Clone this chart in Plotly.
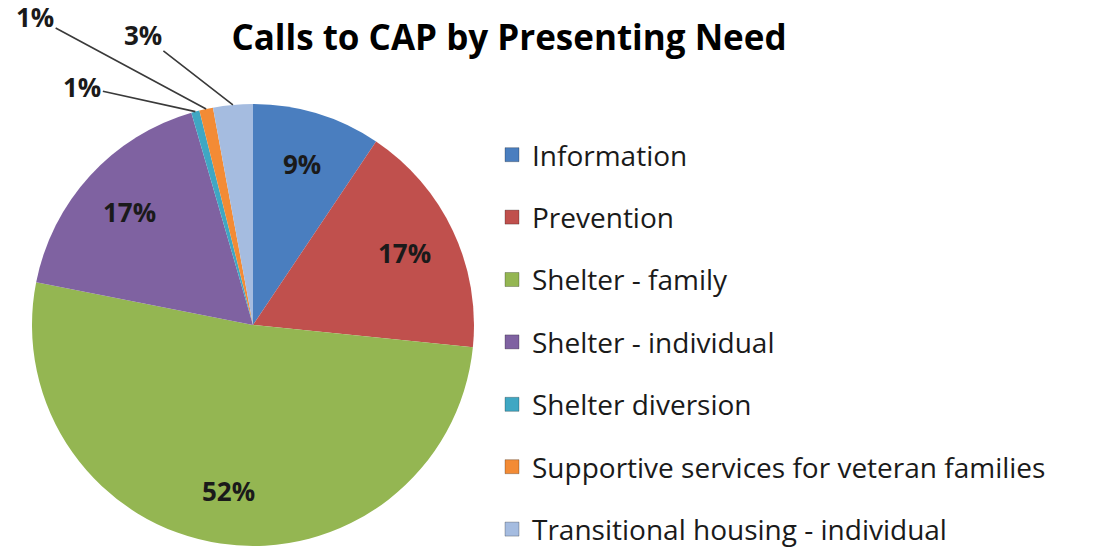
import math
import plotly.graph_objects as go

# ---- data ----
categories = [
    "Information",
    "Prevention",
    "Shelter - family",
    "Shelter - individual",
    "Shelter diversion",
    "Supportive services for veteran families",
    "Transitional housing - individual",
]
values = [9.4, 17.2, 51.5, 17.4, 0.6, 1.0, 2.9]
colors = ["#4A7EBF", "#C0504D", "#94B652", "#7F62A1", "#3FA7C3", "#F38B35", "#A5BCE0"]

W, H = 1106, 548
# pie placement (pixels)
CX, CY, R = 253, 325, 221
dom_x = [(CX - R) / W, (CX + R) / W]
dom_y = [1 - (CY + R) / H, 1 - (CY - R) / H]

total = sum(values)
inside = [v / total >= 0.05 for v in values]

font_family = "Open Sans"
label_font = dict(family=font_family, size=26, color="#1a1a1a", weight="bold")

fig = go.Figure()
fig.add_trace(go.Pie(
    labels=categories,
    values=values,
    sort=False,
    direction="clockwise",
    rotation=0,
    marker=dict(colors=colors, line=dict(width=0)),
    textinfo="none",
    domain=dict(x=dom_x, y=dom_y),
    showlegend=False,
    hoverinfo="label+percent",
))

# legend entries (one group each so the spacing can match)
for cat, col in zip(categories, colors):
    fig.add_trace(go.Scatter(
        x=[None], y=[None], mode="markers", name=cat,
        marker=dict(symbol="square", size=14, color=col,
                    line=dict(color="rgba(0,0,0,0.25)", width=1)),
        legendgroup=cat, showlegend=True, hoverinfo="skip",
    ))

# percentage labels: inside along slice bisector, small slices outside with leader lines
offsets = {4: (-113, -25), 5: (-171, -92), 6: (-90, -70)}
cum = 0.0
for i, v in enumerate(values):
    start = cum
    cum += v
    mid = (start + v / 2) / total * 2 * math.pi
    txt = f"{round(v / total * 100)}%"
    if inside[i]:
        rr = 0.76 * R
        px = CX + rr * math.sin(mid)
        py = CY - rr * math.cos(mid)
        fig.add_annotation(x=px / W, y=1 - py / H, xref="paper", yref="paper",
                           text=txt, showarrow=False, xanchor="center", yanchor="middle",
                           font=label_font)
        continue
    px = CX + R * math.sin(mid)
    py = CY - R * math.cos(mid)
    ax, ay = offsets.get(i, (-60, -40))
    fig.add_annotation(
        x=px / W, y=1 - py / H, xref="paper", yref="paper",
        text=txt,
        showarrow=True, arrowhead=0, arrowwidth=1.6, arrowcolor="#3a3a3a",
        ax=ax, ay=ay, standoff=0,
        font=label_font,
    )

fig.update_layout(
    width=W, height=H,
    margin=dict(l=0, r=0, t=0, b=0, autoexpand=False),
    paper_bgcolor="white", plot_bgcolor="white",
    title=dict(text="<b>Calls to CAP by Presenting Need</b>", x=509 / W, xanchor="center",
               y=1 - 38 / H, yanchor="middle",
               font=dict(family=font_family, size=35, color="#000000")),
    xaxis=dict(visible=False), yaxis=dict(visible=False),
    legend=dict(x=492 / W, xanchor="left", y=1 - 130 / H, yanchor="top",
                font=dict(family=font_family, size=28, color="#1a1a1a"),
                tracegroupgap=23, itemsizing="trace", bgcolor="rgba(0,0,0,0)"),
)

fig.write_html("out.html")
